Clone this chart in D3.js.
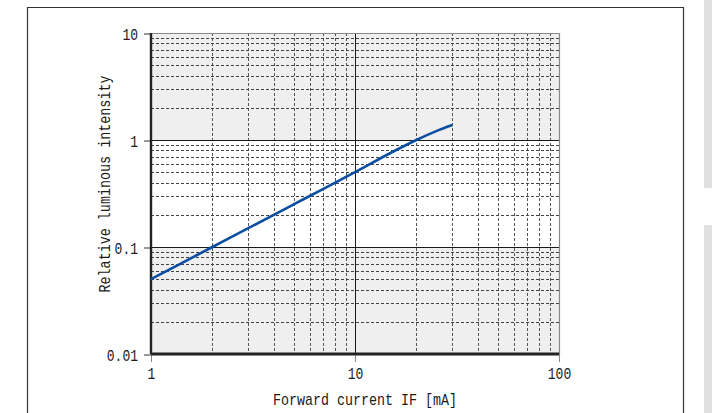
<html>
<script src="https://d3js.org/d3.v7.min.js"></script>
<style>
	body { margin: 0; background: #fff; }
	text { font-family: "Liberation Mono", monospace; fill: #1a1a1a; }
	.grid line { shape-rendering: crispEdges; }
</style>
<body>
<svg width="712" height="413"></svg>
<script>
// values
const currentMA = [1, 2, 3, 5, 7, 10, 15, 20, 25, 30];
const relIntensity = [0.05, 0.1, 0.15, 0.25, 0.35, 0.5, 0.76, 1.0, 1.21, 1.38];
const xTicks = [1, 10, 100];
const yTicks = [0.01, 0.1, 1, 10];
const yTickLabels = ["0.01", "0.1", "1", "10"];

const svg = d3.select("svg");

// page frame and side bars
svg.append("path").attr("d", "M27.5,413V7.5H683.5V413")
	.attr("fill", "none").attr("stroke", "#333").attr("stroke-width", 1.2);
svg.append("rect").attr("x", 704).attr("y", 0).attr("width", 8).attr("height", 188).attr("fill", "#e0e0e0");
svg.append("rect").attr("x", 704).attr("y", 225).attr("width", 8).attr("height", 188).attr("fill", "#e0e0e0");

const x = d3.scaleLog().domain([1, 100]).range([151, 559]);
const y = d3.scaleLog().domain([0.01, 10]).range([354, 33]);

// alternating decade bands
const bands = [[1, 10, "#efefef"], [0.1, 1, "#ffffff"], [0.01, 0.1, "#efefef"]];
svg.selectAll(".band").data(bands).enter().append("rect")
	.attr("x", x(1)).attr("width", x(100) - x(1))
	.attr("y", d => y(d[1])).attr("height", d => y(d[0]) - y(d[1]))
	.attr("fill", d => d[2]);

// minor grid
const minorX = [], minorY = [];
[1, 10].forEach(dec => { for (let k = 2; k <= 9; k++) minorX.push(dec * k); });
[0.01, 0.1, 1].forEach(dec => { for (let k = 2; k <= 9; k++) minorY.push(dec * k); });

svg.append("g").attr("class", "grid").selectAll("line").data(minorX).enter().append("line")
	.attr("x1", d => Math.round(x(d)) + 0.5).attr("x2", d => Math.round(x(d)) + 0.5)
	.attr("y1", y(10)).attr("y2", y(0.01))
	.attr("stroke", "#555").attr("stroke-width", 1).attr("stroke-dasharray", "3,2");
svg.append("g").attr("class", "grid").selectAll("line").data(minorY).enter().append("line")
	.attr("x1", x(1)).attr("x2", x(100))
	.attr("y1", d => Math.round(y(d)) + 0.5).attr("y2", d => Math.round(y(d)) + 0.5)
	.attr("stroke", "#444").attr("stroke-width", 1).attr("stroke-dasharray", "3,2");

// major grid
svg.append("g").attr("class", "grid").selectAll("line").data([10]).enter().append("line")
	.attr("x1", d => Math.round(x(d)) + 0.5).attr("x2", d => Math.round(x(d)) + 0.5)
	.attr("y1", y(10)).attr("y2", y(0.01))
	.attr("stroke", "#1a1a1a").attr("stroke-width", 1);
svg.append("g").attr("class", "grid").selectAll("line").data([0.1, 1]).enter().append("line")
	.attr("x1", x(1)).attr("x2", x(100))
	.attr("y1", d => Math.round(y(d)) + 0.5).attr("y2", d => Math.round(y(d)) + 0.5)
	.attr("stroke", "#1a1a1a").attr("stroke-width", 1);

// plot border (top / right)
svg.append("path")
	.attr("d", "M" + x(1) + "," + (y(10) + 0.5) + "H" + (x(100) + 0.5) + "V" + y(0.01))
	.attr("fill", "none").attr("stroke", "#888").attr("stroke-width", 1.2);

// axes
const yAxis = d3.axisLeft(y).tickValues(yTicks).tickSize(7).tickPadding(6)
	.tickFormat((d, i) => yTickLabels[i]);
const gy = svg.append("g").attr("transform", "translate(" + x(1) + ",0.5)").call(yAxis);
gy.select(".domain").remove();
gy.selectAll("line").attr("stroke", "#333");
gy.selectAll("text").style("font-size", "17px").attr("dy", "0.36em")
	.attr("textLength", d => yTickLabels[yTicks.indexOf(d)].length * 7.8)
	.attr("lengthAdjust", "spacingAndGlyphs");

const xAxis = d3.axisBottom(x).tickValues(xTicks).tickSize(8).tickPadding(5)
	.tickFormat(d3.format("d"));
const gx = svg.append("g").attr("transform", "translate(0," + y(0.01) + ")").call(xAxis);
gx.select(".domain").remove();
gx.selectAll("line").attr("stroke", "#888");
gx.selectAll("text").style("font-size", "17px")
	.attr("textLength", d => String(d).length * 7.8)
	.attr("lengthAdjust", "spacingAndGlyphs");

// thick axis lines
svg.append("line").attr("x1", x(1)).attr("x2", x(1)).attr("y1", y(10)).attr("y2", y(0.01))
	.attr("stroke", "#222").attr("stroke-width", 2.4);
svg.append("line").attr("x1", x(1)).attr("x2", x(100)).attr("y1", y(0.01)).attr("y2", y(0.01))
	.attr("stroke", "#222").attr("stroke-width", 2.8);

// curve
const line = d3.line().x((d, i) => x(currentMA[i])).y(d => y(d)).curve(d3.curveMonotoneX);
svg.append("path").datum(relIntensity)
	.attr("d", line).attr("fill", "none")
	.attr("stroke", "#0b4ea2").attr("stroke-width", 2.6);

// axis titles
svg.append("text").attr("x", 365).attr("y", 405).attr("text-anchor", "middle")
	.style("font-size", "17px").attr("textLength", 184).attr("lengthAdjust", "spacingAndGlyphs")
	.text("Forward current IF [mA]");
svg.append("text").attr("transform", "translate(110,184) rotate(-90)").attr("text-anchor", "middle")
	.style("font-size", "17px").attr("textLength", 217).attr("lengthAdjust", "spacingAndGlyphs")
	.text("Relative luminous intensity");
</script>
</body>
</html>
